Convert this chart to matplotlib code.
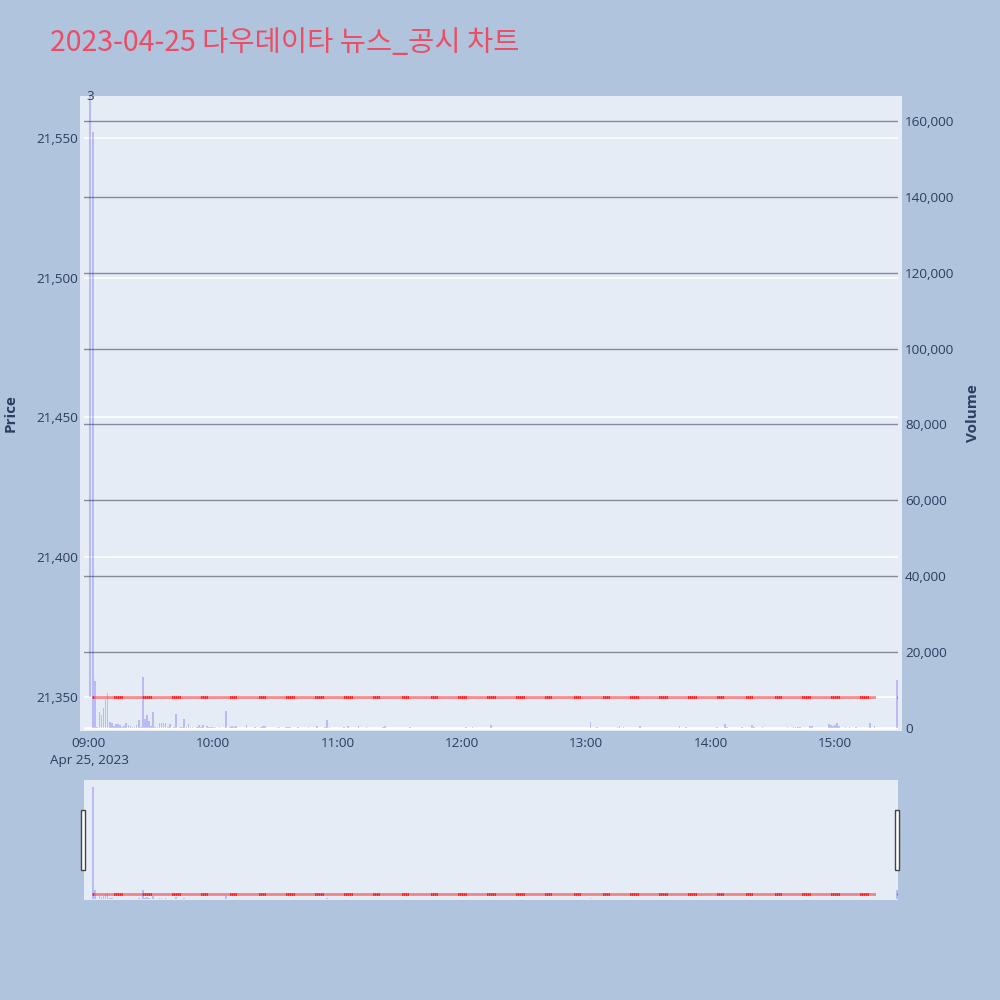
import matplotlib
matplotlib.use("Agg")
import matplotlib.pyplot as plt
from matplotlib.patches import Rectangle
from matplotlib.ticker import FuncFormatter
import matplotlib.transforms as mtrans

# ---- data: minutes after 09:00 on 2023-04-25 ----
bar_minutes = list(range(2, 380)) + [390]
close_price = [21350] * len(bar_minutes)
volume = [
    157000, 12500, 300, 4300, 3400, 5400, 7600, 9100, 1700, 1400,
    500, 1000, 1000, 700, 300, 500, 1200, 700, 600, 300,
    300, 700, 2100, 200, 13400, 2300, 3400, 1800, 500, 4100,
    200, 300, 1400, 1400, 1200, 1400, 300, 1000, 100, 200,
    3600, 100, 300, 200, 2500, 300, 1000, 300, 200, 0,
    300, 900, 200, 900, 100, 400, 300, 300, 200, 200,
    100, 300, 100, 100, 4500, 100, 200, 500, 200, 400,
    100, 100, 0, 100, 900, 100, 100, 0, 200, 100,
    100, 200, 500, 500, 100, 0, 100, 100, 100, 200,
    300, 100, 100, 200, 300, 300, 100, 50, 100, 200,
    100, 50, 100, 100, 200, 100, 50, 100, 400, 100,
    100, 50, 200, 2000, 300, 100, 50, 100, 100, 50,
    100, 200, 100, 400, 100, 100, 50, 100, 400, 100,
    50, 100, 300, 100, 50, 100, 100, 50, 100, 100,
    200, 500, 100, 50, 100, 100, 50, 100, 50, 100,
    100, 50, 100, 200, 100, 50, 100, 50, 100, 50,
    50, 100, 50, 100, 50, 100, 100, 50, 50, 100,
    50, 100, 50, 50, 100, 50, 100, 50, 50, 100,
    300, 50, 100, 300, 100, 50, 100, 50, 100, 50,
    100, 50, 700, 100, 50, 100, 50, 100, 50, 50,
    100, 50, 50, 100, 50, 100, 50, 50, 100, 50,
    50, 100, 50, 50, 100, 50, 100, 50, 50, 100,
    50, 100, 50, 50, 100, 50, 50, 100, 50, 100,
    50, 50, 100, 50, 100, 50, 50, 100, 50, 100,
    1500, 100, 50, 300, 100, 50, 100, 50, 100, 50,
    100, 50, 100, 200, 400, 100, 300, 50, 100, 50,
    100, 50, 100, 50, 400, 100, 50, 100, 50, 100,
    50, 100, 50, 50, 100, 50, 100, 50, 50, 100,
    50, 100, 50, 400, 100, 50, 300, 100, 50, 100,
    50, 100, 50, 100, 50, 50, 100, 50, 100, 50,
    100, 200, 50, 100, 50, 1100, 300, 100, 50, 100,
    50, 100, 50, 300, 100, 50, 100, 50, 900, 300,
    50, 100, 50, 200, 100, 50, 100, 50, 100, 50,
    100, 50, 100, 50, 100, 300, 50, 100, 200, 200,
    200, 200, 50, 100, 50, 100, 500, 500, 100, 50,
    100, 50, 100, 50, 100, 1100, 800, 600, 700, 1300,
    600, 100, 50, 300, 100, 300, 50, 100, 200, 50,
    100, 50, 100, 50, 100, 1300, 100, 500,
    12600,
]
news_minutes = [0.5]
news_counts = ["3"]
news_price = [21350]

hour_ticks = [0, 60, 120, 180, 240, 300, 360]
hour_labels = ["09:00\nApr 25, 2023", "10:00", "11:00", "12:00", "13:00", "14:00", "15:00"]
price_ticks = [21350, 21400, 21450, 21500, 21550]
vol_ticks = [0, 20000, 40000, 60000, 80000, 100000, 120000, 140000, 160000]

# ---- style ----
BG = "#b0c4de"
PLOT_BG = "#e5ecf6"
TXT = "#2a3f5f"
BAR_C = (0.0, 0.0, 1.0, 0.2)
BAR_W = 0.8
XLIM = (-2.4, 390.4)
PLIM = (21337.8, 21565.0)
VLIM = (-791, 166590)
TICK_FONT = ["Open Sans", "DejaVu Sans"]
FS = 9.7
comma = FuncFormatter(lambda v, p: f"{int(v):,}")

fig = plt.figure(figsize=(10, 10), dpi=100, facecolor=BG)

# plot background (a bit wider than the data area, like the reference)
fig.patches.append(Rectangle((0.080, 0.269), 0.822, 0.635, transform=fig.transFigure,
                             fc=PLOT_BG, ec="none", zorder=-5))

# ---------------- main chart ----------------
ax = fig.add_axes([0.084, 0.269, 0.814, 0.635])
ax.set_facecolor("none")
axv = ax.twinx()
axv.set_facecolor("none")

ax.set_xlim(*XLIM)
ax.set_ylim(*PLIM)
axv.set_ylim(*VLIM)

ax.set_yticks(price_ticks)
ax.yaxis.set_major_formatter(comma)
ax.grid(axis="y", color="white", lw=1.2)
ax.set_xticks(hour_ticks)
ax.set_xticklabels(hour_labels, linespacing=1.4)
ax.tick_params(axis="x", length=0, pad=4, labelsize=FS, labelcolor=TXT)
ax.tick_params(axis="y", length=0, pad=4, labelsize=FS, labelcolor=TXT)

axv.set_yticks(vol_ticks)
axv.yaxis.set_major_formatter(comma)
axv.grid(axis="y", color="#858c99", lw=1.0)
axv.tick_params(axis="y", length=0, pad=5, labelsize=FS, labelcolor=TXT)
axv.axhline(0, color="white", lw=2, zorder=1.6)

for a in (ax, axv):
    for s in a.spines.values():
        s.set_visible(False)
for lab in ax.get_xticklabels() + ax.get_yticklabels() + axv.get_yticklabels():
    lab.set_family(TICK_FONT)

axv.bar(bar_minutes, volume, width=BAR_W, color=BAR_C, lw=0, zorder=2)
# candles (open = close) drawn on top of volume bars, in price coordinates
axv.hlines(close_price, [m - 0.32 for m in bar_minutes], [m + 0.32 for m in bar_minutes],
           colors="#ff1a1a", lw=2, transform=ax.transData, zorder=3)

# news markers
axv.vlines(news_minutes, news_price, [PLIM[1]] * len(news_minutes), colors=[BAR_C],
           lw=1.5, transform=ax.transData, zorder=2)
blend = mtrans.blended_transform_factory(ax.transData, ax.transAxes)
for m, c in zip(news_minutes, news_counts):
    axv.text(m, 1.0, c, transform=blend, ha="center", va="center", fontsize=FS,
             color=TXT, family=TICK_FONT, zorder=4, clip_on=False)

fig.text(0.011, 0.587, "Price", rotation=90, ha="center", va="center",
         fontsize=11, weight="bold", color=TXT, family=TICK_FONT)
fig.text(0.973, 0.587, "Volume", rotation=90, ha="center", va="center",
         fontsize=11, weight="bold", color=TXT, family=TICK_FONT)

fig.text(0.050, 0.957, "2023-04-25 다우데이타 뉴스_공시 차트", ha="left", va="center",
         fontsize=20.5, color="#ec4d64", family=["Noto Sans CJK KR", "DejaVu Sans"])

# ---------------- range slider ----------------
rs = fig.add_axes([0.084, 0.100, 0.814, 0.120])
rs.set_facecolor(PLOT_BG)
rsv = rs.twinx()
rs.set_xlim(*XLIM)
rs.set_ylim(*PLIM)
rsv.set_ylim(*VLIM)
for a in (rs, rsv):
    a.set_xticks([])
    a.set_yticks([])
    for s in a.spines.values():
        s.set_visible(False)
rsv.bar(bar_minutes, volume, width=BAR_W, color=BAR_C, lw=0, zorder=2)
rsv.hlines(close_price, [m - 0.32 for m in bar_minutes], [m + 0.32 for m in bar_minutes],
           colors="#ff1a1a", lw=2, transform=rs.transData, zorder=3)

for hx in (0.0813, 0.8950):
    fig.patches.append(Rectangle((hx, 0.130), 0.004, 0.060, transform=fig.transFigure,
                                 fc="white", ec="#444444", lw=1, zorder=5))

fig.savefig("out.png", dpi=100, facecolor=BG)
